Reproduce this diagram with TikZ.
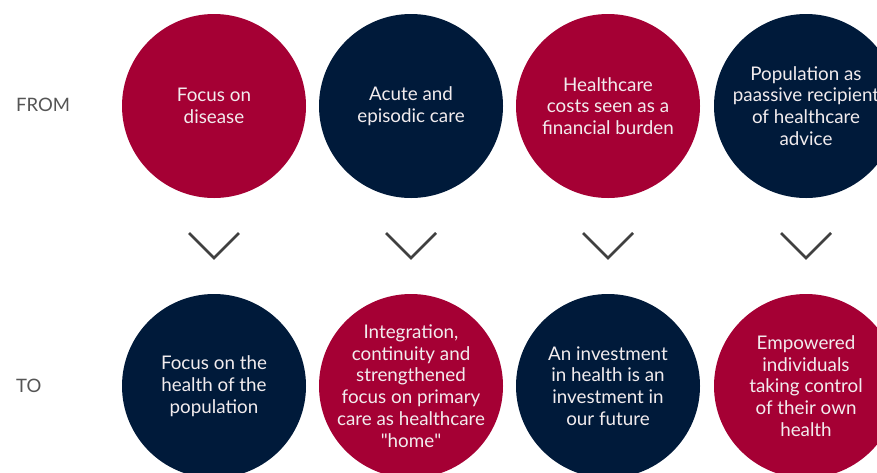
\documentclass[tikz,border=0pt]{standalone}
\usepackage{fontspec}
\setmainfont{Lato}
\definecolor{cred}{HTML}{A50034}
\definecolor{cnavy}{HTML}{001A3A}
\definecolor{chev}{HTML}{404040}
\definecolor{ctext}{HTML}{F2ECEE}
\definecolor{clabel}{HTML}{555555}
\begin{document}
\begin{tikzpicture}[x=1pt,y=-1pt,
  bubble/.style={circle,minimum size=184pt,inner sep=-40pt,text=ctext,align=center,
    font=\fontsize{18.8}{21.8}\selectfont},
  redb/.style={bubble,fill=cred},
  navyb/.style={bubble,fill=cnavy},
  rowlabel/.style={anchor=west,text=clabel,font=\fontsize{18.5}{20}\selectfont,inner sep=0pt},
  chevron/.style={draw=chev,line width=2.6pt}]
\clip (0,0) rectangle (877,472);
\fill[white] (0,0) rectangle (877,472);
\node[rowlabel] (from) at (16,105) {FROM};
\node[rowlabel] (to) at (16,386) {TO};
\node[redb] (t1) at (214,106) {Focus on\\disease};
\node[navyb] (t2) at (411,106) {Acute and\\episodic care};
\node[redb] (t3) at (608,106) {Healthcare\\costs seen as a\\financial burden};
\node[navyb] (t4) at (806,106) {Population as\\paassive recipient\\of healthcare\\advice};
\node[navyb] (b1) at (214,386) {Focus on the\\health of the\\population};
\node[redb] (b2) at (411,386) {Integration,\\continuity and\\strengthened\\focus on primary\\care as healthcare\\\textquotedbl home\textquotedbl};
\node[navyb] (b3) at (608,386) {An investment\\in health is an\\investment in\\our future};
\node[redb] (b4) at (806,386) {Empowered\\individuals\\taking control\\of their own\\health};
\foreach \n/\x in {c1/214,c2/411,c3/608,c4/806}{
  \coordinate (\n) at (\x,258);
  \draw[chevron] ([shift={(-25,-25)}]\n) -- (\n) -- ([shift={(25,-25)}]\n);
}
\end{tikzpicture}
\end{document}
